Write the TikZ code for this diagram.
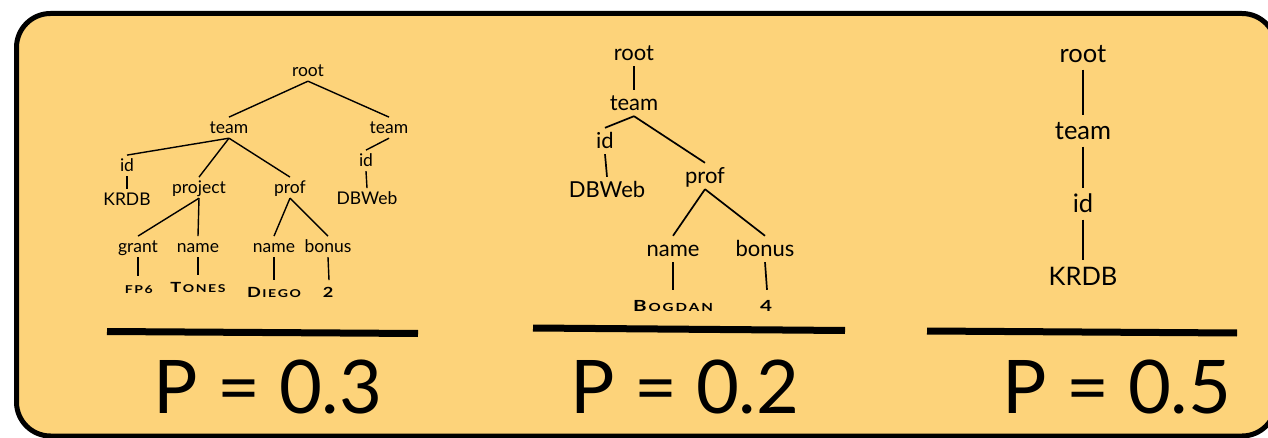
\documentclass[tikz,border=0pt]{standalone}
\usepackage{fontspec}
\setmainfont{Lato}
\definecolor{boxfill}{RGB}{253,211,122}
\def\spcloop#1#2\relax{#1\def\rest{#2}\ifx\rest\empty\else\kern\sck\spcloop#2\relax\fi}
\newcommand{\spc}[1]{\def\next{#1}\ifx\next\empty\else\spcloop#1\relax\fi}
\newdimen\sck
% fake bold small caps, stretched horizontally
\newcommand{\scA}[2]{\scalebox{1.3}[1]{\bfseries\sck=1.2pt\fontsize{14}{16}\selectfont #1\kern\sck\fontsize{10.8}{12}\selectfont\spc{#2}}}
\newcommand{\scB}[2]{\scalebox{1.35}[1]{\bfseries\sck=1.4pt\fontsize{15.3}{18}\selectfont #1\kern\sck\fontsize{11.2}{13}\selectfont\spc{#2}}}
\begin{document}
\begin{tikzpicture}[x=1pt,y=-1pt,
  lab/.style={anchor=base, inner xsep=1pt, text depth=0pt},
  ta/.style={lab, font=\fontsize{17.5}{20}\selectfont, text height=12.7pt, inner ysep=4pt},
  tb/.style={lab, font=\fontsize{22}{26}\selectfont, text height=16pt, inner ysep=5pt},
  tc/.style={lab, font=\fontsize{25.5}{30}\selectfont, text height=18.3pt, inner ysep=6.5pt},
  ea/.style={line width=1.4pt},
  eb/.style={line width=1.7pt},
  bar/.style={line width=7pt},
  plabel/.style={anchor=base, inner sep=0pt, font=\fontsize{74}{80}\selectfont}
]
\useasboundingbox (0,0) rectangle (1268,438);
\fill[white] (0,0) rectangle (1268,438);
\clip (0,0) rectangle (1268,438);
\draw[line width=5pt, fill=boxfill, rounded corners=34pt] (16.5,13.5) rectangle (1276,436);

% ---------- tree 1 ----------
\node[ta] (r1) at (308,77) {root};
\node[ta] (t1a) at (229,134) {team};
\node[ta] (t1b) at (389,134) {team};
\node[ta] (i1a) at (127,172) {id};
\node[ta] (k1) at (127,206) {KRDB};
\node[ta] (pj1) at (199,194) {project};
\node[ta] (pf1) at (290,194) {prof};
\node[ta] (i1b) at (366,167) {id};
\node[ta] (d1) at (367,205) {DBWeb};
\node[ta] (g1) at (138,253) {grant};
\node[ta] (n1a) at (198,253) {name};
\node[ta] (n1b) at (274,253) {name};
\node[ta] (b1) at (328,253) {bonus};
\node[ta] (fp) at (138,293) {\scA{}{FP6}};
\node[ta] (to) at (198,292) {\scA{T}{ONES}};
\node[ta] (di) at (274,297) {\scA{D}{IEGO}};
\node[ta] (tw) at (329,297) {\scA{2}{}};
\draw[ea] (r1.south) -- (t1a.north);
\draw[ea] (r1.south) -- (t1b.north);
\draw[ea] (t1a.south) -- (i1a.north);
\draw[ea] (t1a.south) -- (pj1.north);
\draw[ea] (t1a.south) -- (pf1.north);
\draw[ea] (i1a.south) -- (k1.north);
\draw[ea] (t1b.south) -- (i1b.north);
\draw[ea] (i1b.south) -- (d1.north);
\draw[ea] (pj1.south) -- (g1.north);
\draw[ea] (pj1.south) -- (n1a.north);
\draw[ea] (pf1.south) -- (n1b.north);
\draw[ea] (pf1.south) -- (b1.north);
\draw[ea] (g1.south) -- (fp.north);
\draw[ea] (n1a.south) -- (to.north);
\draw[ea] (n1b.south) -- (di.north);
\draw[ea] (b1.south) -- (tw.north);

% ---------- tree 2 ----------
\node[tb] (r2) at (634,61) {root};
\node[tb] (t2) at (634,111) {team};
\node[tb] (i2) at (605,149) {id};
\node[tb] (d2) at (607,198) {DBWeb};
\node[tb] (pf2) at (705,184) {prof};
\node[tb] (n2) at (673,257) {name};
\node[tb] (b2) at (765,257) {bonus};
\node[tb] (bo) at (673,311) {\scB{B}{OGDAN}};
\node[tb] (fo) at (767,311) {\scB{4}{}};
\draw[eb] (r2.south) -- (t2.north);
\draw[eb] (t2.south) -- (i2.north);
\draw[eb] (t2.south) -- (pf2.north);
\draw[eb] (i2.south) -- (d2.north);
\draw[eb] (pf2.south) -- (n2.north);
\draw[eb] (pf2.south) -- (b2.north);
\draw[eb] (n2.south) -- (bo.north);
\draw[eb] (b2.south) -- (fo.north);

% ---------- tree 3 ----------
\node[tc] (r3) at (1083,63) {root};
\node[tc] (t3) at (1083,140) {team};
\node[tc] (i3) at (1083,213) {id};
\node[tc] (k3) at (1083,285) {KRDB};
\draw[eb] (r3.south) -- (t3.north);
\draw[eb] (t3.south) -- (i3.north);
\draw[eb] (i3.south) -- (k3.north);

% ---------- bars and probabilities ----------
\draw[bar] (107,331.5) -- (418,333.5);
\draw[bar] (533,328) -- (845,330.5);
\draw[bar] (927,331) -- (1237,333);
\node[plabel] (p1) at (268,413) {P = 0.3};
\node[plabel] (p2) at (685,413) {P = 0.2};
\node[plabel] (p3) at (1117,413) {P = 0.5};
\end{tikzpicture}
\end{document}
